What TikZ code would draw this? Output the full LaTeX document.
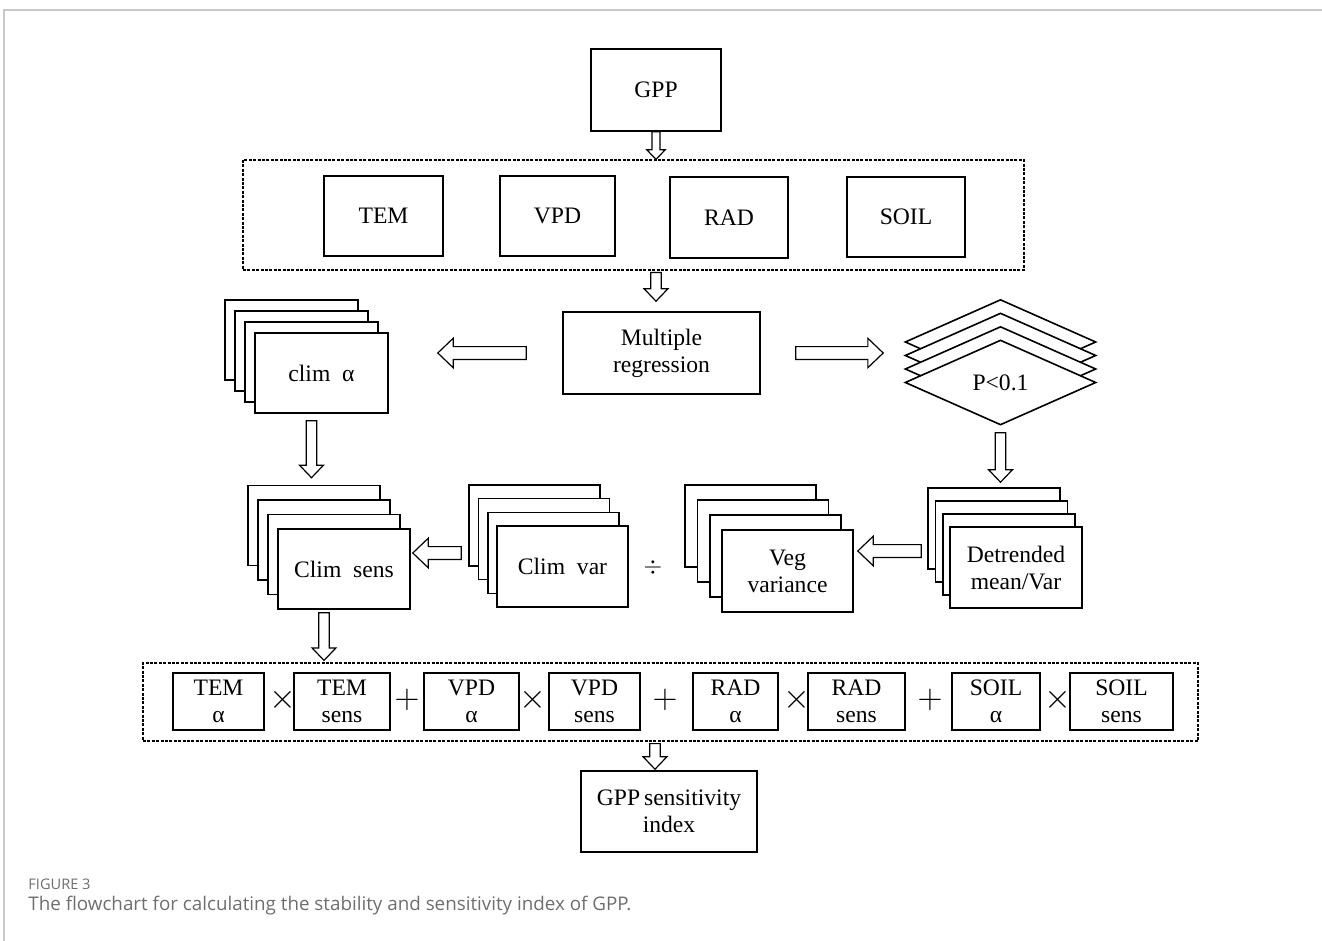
\documentclass[tikz,border=0pt]{standalone}
\usepackage{fontspec}
\setmainfont{Liberation Serif}
\newfontfamily\capfont{Open Sans}
\usetikzlibrary{calc}
\usetikzlibrary{shapes.geometric}

\definecolor{framegray}{RGB}{200,200,200}
\definecolor{capgray}{RGB}{110,110,110}

\newcommand{\boxfont}{\fontsize{11.8}{13.5}\selectfont}
\newcommand{\opfont}{\fontsize{18}{18}\selectfont}

% hollow block arrow: from, to, gap at tail, gap at tip, size
\newcommand{\fatarrow}[5]{%
    \pgfmathsetlengthmacro{\fasw}{#5*1pt}%
    \pgfmathsetlengthmacro{\fahw}{#5*2.3pt}%
    \pgfmathsetlengthmacro{\fahl}{#5*2.4pt}%
    \coordinate (fa-t) at ($(#1)!#3!(#2)$);
    \coordinate (fa-h) at ($(#2)!#4!(#1)$);
    \coordinate (fa-n) at ($(fa-h)!\fahl!(fa-t)$);
    \draw[fat] ($(fa-t)!\fasw!90:(fa-h)$) -- ($(fa-n)!\fasw!-90:(fa-t)$)
        -- ($(fa-n)!\fahw!-90:(fa-t)$) -- (fa-h) -- ($(fa-n)!\fahw!90:(fa-t)$)
        -- ($(fa-n)!\fasw!90:(fa-t)$) -- ($(fa-t)!\fasw!-90:(fa-h)$) -- cycle;
}

% four cards: name, x, y, dx, dy, width, height, text
\newcommand{\cardstack}[8]{%
    \foreach \k in {3,2,1}
        \node[card, minimum width=#6pt, minimum height=#7pt] (#1\k) at (#2-\k*#4, #3-\k*#5) {};
    \node[card, minimum width=#6pt, minimum height=#7pt] (#1) at (#2, #3) {#8};
}

\begin{document}
\begin{tikzpicture}[x=0.5pt, y=-0.5pt,
    card/.style={draw, fill=white, line width=0.8pt, inner sep=1pt, align=center, font=\boxfont},
    choice/.style={diamond, draw, fill=white, line width=0.8pt, inner sep=0pt,
        minimum width=95.5pt, minimum height=42.5pt, font=\boxfont},
    group/.style={draw, line width=0.6pt, dash pattern=on 1.5pt off 0.7pt},
    fat/.style={draw, fill=white, line width=0.6pt, line join=miter},
    op/.style={font=\opfont}]

    \useasboundingbox (0,0) rectangle (1322,941);
    \draw[framegray, line width=0.6pt] (4,941) -- (4,10) -- (1322,10);

    \node[card, minimum width=65pt, minimum height=41pt] (gpp) at (656,90) {GPP};

    \node[group, minimum width=390.5pt, minimum height=55pt] (vars) at (633.5,215) {};
    \node[card, minimum width=59.5pt, minimum height=40pt] (tem) at (383.5,216) {TEM};
    \node[card, minimum width=57.5pt, minimum height=40pt] (vpd) at (557.5,216) {VPD};
    \node[card, minimum width=59pt, minimum height=40.5pt] (rad) at (729,217.5) {RAD};
    \node[card, minimum width=59pt, minimum height=40pt] (soil) at (906,217) {SOIL};

    \node[card, minimum width=98.5pt, minimum height=41pt] (mr) at (661.5,353) {Multiple\\regression};

    \cardstack{clim}{321.5}{373}{10}{11}{66.5}{40}{clim\enspace α}

    \foreach \k in {3,2,1}
        \node[choice] (p\k) at (1000.5, 382.5-\k*13.5) {};
    \node[choice] (p) at (1000.5,382.5) {P<0.1};

    \cardstack{csens}{344}{569}{10}{14.5}{66}{40}{Clim\enspace sens}
    \cardstack{cvar}{562.5}{566.5}{9.3}{13.7}{65.5}{40.5}{Clim\enspace var}
    \cardstack{veg}{787.5}{571}{12.3}{15}{65.5}{41}{Veg\\variance}
    \cardstack{detr}{1016}{567.5}{7.3}{13}{66}{40.5}{Detrended\\mean/Var}

    \node[font=\boxfont] (div) at (653,567) {$\div$};

    \node[group, minimum width=527.5pt, minimum height=39pt] (terms) at (670.5,702) {};
    \foreach \name/\x/\w/\t in {tema/218.5/45.5/{TEM\\α}, tems/342/48/{TEM\\sens},
                               vpda/471.5/47.5/{VPD\\α}, vpds/594.5/45.5/{VPD\\sens},
                               rada/735.5/42.5/{RAD\\α}, rads/856.5/48.5/{RAD\\sens},
                               soila/996/44/{SOIL\\α}, soils/1121.5/51.5/{SOIL\\sens}}
        \node[card, minimum width=\w pt, minimum height=28.5pt] (\name) at (\x,701.5) {\t};
    \foreach \x/\s [count=\i] in {283/\times, 407/+, 533/\times, 665/+, 797/\times, 930/+, 1058/\times}
        \node[op] (op\i) at (\x,700) {$\s$};

    \node[card, minimum width=88pt, minimum height=40.5pt] (gsi) at (669,811.5) {GPP\,sensitivity\\index};

    \fatarrow{gpp.south}{gpp.south |- vars.north}{0pt}{0pt}{2}
    \fatarrow{vars.south -| gpp.south}{gpp.south |- mr.north}{1pt}{5pt}{2.6}
    \fatarrow{mr.west}{clim.east |- mr.west}{18pt}{24.5pt}{3.2}
    \fatarrow{mr.east}{p.west |- mr.east}{17.5pt}{10.5pt}{3.2}
    \fatarrow{p.south}{p.south |- detr3.north}{3.5pt}{2.5pt}{2.6}
    \fatarrow{clim1.south |- clim.south}{clim1.south |- csens3.north}{3.5pt}{3.5pt}{2.6}
    \coordinate (csin) at ([yshift=8pt]csens.east);
    \fatarrow{cvar3.west |- csin}{csin}{3.5pt}{1pt}{3.2}
    \coordinate (vgin) at ([yshift=10pt]veg.east);
    \fatarrow{detr3.west |- vgin}{vgin}{3pt}{2pt}{3.2}
    \fatarrow{csens2.south |- csens.south}{csens2.south |- terms.north}{1.5pt}{1pt}{2.6}
    \coordinate (gsin) at ([xshift=-7pt]gsi.north);
    \fatarrow{gsin |- terms.south}{gsin}{1pt}{0.5pt}{2.6}

    \node[anchor=west, inner sep=0pt, font=\capfont\fontsize{7.3}{8}\selectfont, text=capgray] (fignum) at (28,884) {FIGURE 3};
    \node[anchor=west, inner sep=0pt, font=\capfont\fontsize{9.4}{11}\selectfont, text=capgray] (caption) at (28,906) {The flowchart for calculating the stability and sensitivity index of GPP.};
\end{tikzpicture}
\end{document}
